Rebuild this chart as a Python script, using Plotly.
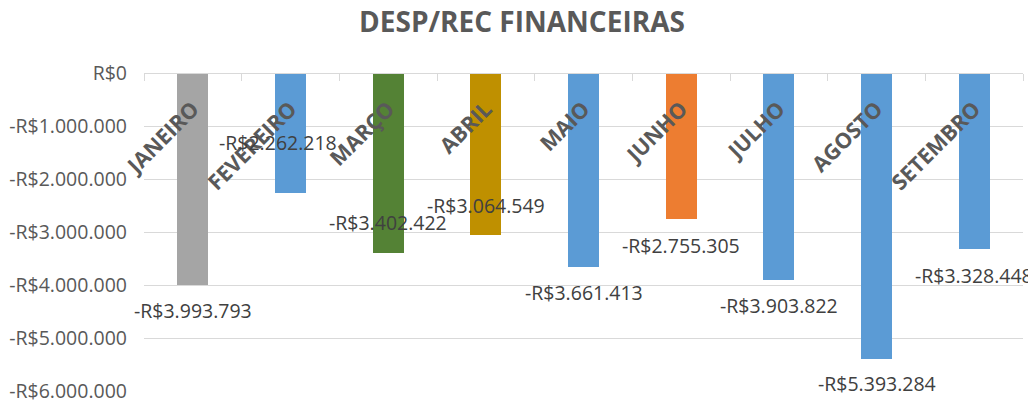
import plotly.graph_objects as go

# ---- data ----
months = ["JANEIRO", "FEVEREIRO", "MARÇO", "ABRIL", "MAIO", "JUNHO", "JULHO", "AGOSTO", "SETEMBRO"]
values = [-3993793, -2262218, -3402422, -3064549, -3661413, -2755305, -3903822, -5393284, -3328448]
bar_colors = ["#A5A5A5", "#5B9BD5", "#548235", "#BF9000", "#5B9BD5", "#ED7D31", "#5B9BD5", "#5B9BD5", "#5B9BD5"]
y_tickvals = [0, -1000000, -2000000, -3000000, -4000000, -5000000, -6000000]

# label placement tweaks (pixels) copied from the manually moved Excel labels
label_xshift = [0, -13, 0, 0, 0, 0, 0, 0, 0]
label_yshift = [-26, 50, 31, 30, -25, -26, -26, -25, -26]


def brl(v):
    s = f"{abs(v):,}".replace(",", ".")
    return ("-R$" if v < 0 else "R$") + s


y_ticktext = [brl(v) for v in y_tickvals]

FONT = "Open Sans"

fig = go.Figure()
fig.add_trace(go.Bar(
    x=months, y=values,
    marker=dict(color=bar_colors, line=dict(width=0)),
    width=0.32,
    hoverinfo="x+y",
))

for m, v, dx, dy in zip(months, values, label_xshift, label_yshift):
    fig.add_annotation(
        x=m, y=v, text=brl(v), showarrow=False,
        xanchor="center", yanchor="middle",
        xshift=dx, yshift=dy,
        font=dict(family=FONT, size=19.5, color="#404040"),
    )

# the page body adds an 8px offset, so margins are set relative to that
fig.update_layout(
    width=1036, height=401,
    paper_bgcolor="white", plot_bgcolor="white",
    margin=dict(l=136, r=21, t=65, b=18, autoexpand=False),
    showlegend=False,
    bargap=0,
    title=dict(
        text="<b>DESP/REC FINANCEIRAS</b>",
        x=514 / 1036, xref="container", xanchor="center",
        y=1 - 14 / 401, yref="container", yanchor="middle",
        font=dict(family=FONT, size=28, color="#595959"),
    ),
    xaxis=dict(
        type="category",
        range=[-0.5, len(months) - 0.5],
        anchor="free", position=1,
        side="bottom",
        showline=True, linecolor="#D9D9D9", linewidth=1,
        ticks="outside", ticklen=7, tickcolor="#D9D9D9", tickwidth=1,
        tickson="boundaries",
        showgrid=False,
        tickangle=-45,
        ticklabelstandoff=14,
        tickfont=dict(family=FONT, size=21.5, color="#595959", weight="bold"),
        automargin=False,
    ),
    yaxis=dict(
        range=[-6000000, 0],
        tickvals=y_tickvals, ticktext=y_ticktext,
        showgrid=True, gridcolor="#D9D9D9", gridwidth=1,
        zeroline=False, showline=False, ticks="",
        ticklabelstandoff=16,
        tickfont=dict(family=FONT, size=19.5, color="#595959"),
        automargin=False,
    ),
)

fig.write_html("out.html")
